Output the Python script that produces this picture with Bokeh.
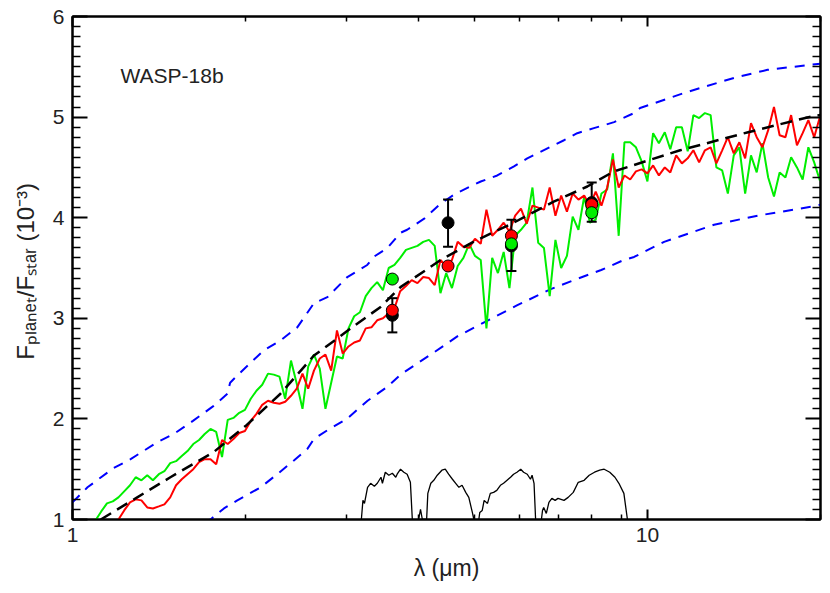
from bokeh.plotting import figure
from bokeh.models import (Range1d, FixedTicker, LogAxis, LinearAxis, Label, ColumnDataSource,
                          PrintfTickFormatter)
from bokeh.embed import file_html
from bokeh.resources import INLINE

NaN = float("nan")

# model spectra wavelength grid (micron)
model_wl = [1.096, 1.122, 1.148, 1.175, 1.202, 1.230, 1.259, 1.288, 1.318, 1.349, 1.380, 1.413, 1.445,
            1.479, 1.514, 1.549, 1.585, 1.622, 1.660, 1.698, 1.738, 1.778, 1.820, 1.862, 1.905, 1.950,
            1.995, 2.042, 2.089, 2.138, 2.188, 2.239, 2.291, 2.344, 2.399, 2.455, 2.512, 2.570, 2.630,
            2.692, 2.754, 2.818, 2.884, 2.951, 3.020, 3.090, 3.162, 3.236, 3.311, 3.388, 3.467, 3.548,
            3.631, 3.715, 3.802, 3.890, 3.981, 4.074, 4.169, 4.266, 4.365, 4.467, 4.571, 4.677, 4.786,
            4.898, 5.012, 5.129, 5.248, 5.370, 5.495, 5.623, 5.754, 5.888, 6.026, 6.166, 6.310, 6.457,
            6.607, 6.761, 6.918, 7.079, 7.244, 7.413, 7.586, 7.762, 7.943, 8.128, 8.318, 8.511, 8.710,
            8.913, 9.120, 9.333, 9.550, 9.772, 10.00, 10.23, 10.47, 10.72, 10.96, 11.22, 11.48, 11.75,
            12.02, 12.30, 12.59, 12.88, 13.18, 13.49, 13.80, 14.13, 14.45, 14.79, 15.14, 15.49, 15.85,
            16.22, 16.60, 16.98, 17.38, 17.78, 18.20, 18.62, 19.05, 19.50, 19.95]

green_flux = [0.99, 1.08, 1.16, 1.18, 1.22, 1.28, 1.34, 1.42, 1.39, 1.44, 1.39, 1.45, 1.48, 1.56, 1.58,
              1.63, 1.68, 1.75, 1.79, 1.85, 1.90, 1.87, 1.62, 1.99, 2.01, 2.06, 2.09, 2.20, 2.28, 2.34,
              2.45, 2.44, 2.42, 2.20, 2.58, 2.35, 2.10, 2.52, 2.64, 2.50, 2.10, 2.36, 2.62, 2.60, 2.90,
              3.02, 3.06, 3.22, 3.30, 3.36, 3.28, 3.50, 3.53, 3.60, 3.68, 3.70, 3.72, 3.76, 3.78, 3.72,
              3.25, 3.45, 3.30, 3.52, 3.60, 3.74, 3.62, 3.58, 2.90, 3.60, 3.45, 3.66, 3.30, 3.82, 3.88,
              3.95, 4.30, 3.75, 3.70, 3.22, 3.78, 3.50, 3.62, 4.01, 3.88, 4.21, 3.95, 3.98, 4.24, 4.28,
              4.64, 3.82, 4.75, 4.75, 4.70, 4.56, 4.36, 4.84, 4.74, 4.85, 4.68, 4.90, 4.90, 4.66, 5.02,
              4.99, 5.04, 5.02, 4.50, 4.47, 4.24, 4.62, 4.70, 4.24, 4.62, 4.45, 4.74, 4.40, 4.21, 4.45,
              4.40, 4.60, 4.50, 4.38, 4.70, 4.55, 4.37]

red_flux = [NaN, NaN, NaN, NaN, 1.00, 1.09, 1.17, 1.20, 1.19, 1.12, 1.11, 1.13, 1.15, 1.22, 1.34,
            1.40, 1.45, 1.50, 1.57, 1.60, 1.60, 1.55, 1.79, 1.75, 1.80, 1.86, 1.88, 1.98, 2.05, 2.14,
            2.18, 2.16, 2.15, 2.17, 2.23, 2.30, 2.45, 2.30, 2.48, 2.60, 2.64, 2.48, 2.88, 2.65, 2.72,
            2.76, 2.78, 2.90, 2.91, 2.98, 3.00, 3.05, 3.10, 3.27, 3.32, 3.38, 3.35, 3.41, 3.40, 3.33,
            3.58, 3.52, 3.58, 3.76, 3.71, 3.70, 3.79, 3.74, 4.08, 3.82, 3.88, 3.95, 3.86, 4.02, 4.09,
            3.94, 4.12, 4.10, 4.08, 4.30, 4.02, 4.22, 4.06, 4.24, 4.18, 4.22, 4.12, 4.26, 4.12, 4.30,
            4.58, 4.30, 4.42, 4.38, 4.46, 4.48, 4.44, 4.52, 4.42, 4.50, 4.45, 4.62, 4.54, 4.59, 4.67,
            4.55, 4.67, 4.70, 4.54, 4.67, 4.80, 4.64, 4.75, 4.59, 4.94, 4.80, 4.70, 4.87, 5.10, 4.82,
            4.80, 5.02, 4.72, 4.84, 4.97, 4.80, 5.00]

# black dashed model
bb_wl = [1.12, 1.296, 1.48, 1.76, 2.01, 2.30, 2.63, 2.89, 3.08, 3.43, 3.72, 4.37, 4.98, 5.85, 6.87,
         7.86, 8.74, 11.4, 14.97, 19.4, 20.0]
bb_flux = [1.00, 1.22, 1.42, 1.67, 1.94, 2.25, 2.63, 2.80, 2.92, 3.11, 3.31, 3.58, 3.76, 3.95, 4.16,
           4.31, 4.46, 4.67, 4.85, 5.01, 5.02]

# blue dashed upper / lower
hi_wl = [1.0, 1.062, 1.178, 1.262, 1.406, 1.50, 1.62, 1.76, 1.86, 1.88, 1.934, 2.149, 2.30, 2.46, 2.63,
         2.775, 3.006, 3.256, 3.34, 3.53, 3.72, 3.82, 4.09, 4.37, 4.64, 5.13, 5.48, 5.86, 6.18, 6.70,
         7.16, 7.55, 8.07, 8.75, 9.48, 9.71, 11.58, 14.15, 16.18, 19.24, 20.0]
hi_flux = [1.17, 1.32, 1.51, 1.60, 1.77, 1.85, 1.98, 2.13, 2.25, 2.36, 2.43, 2.68, 2.78, 2.91, 3.15,
           3.21, 3.41, 3.53, 3.61, 3.70, 3.85, 3.88, 3.99, 4.14, 4.24, 4.36, 4.42, 4.51, 4.59, 4.69,
           4.77, 4.84, 4.89, 4.95, 5.04, 5.09, 5.24, 5.39, 5.47, 5.52, 5.53]
lo_wl = [1.70, 1.738, 1.834, 1.935, 2.124, 2.27, 2.43, 2.56, 2.63, 2.78, 3.0, 3.26, 3.53, 3.72, 4.25,
         4.67, 5.20, 5.94, 6.79, 7.45, 8.31, 9.10, 9.48, 10.69, 13.06, 15.54, 19.76, 20.0]
lo_flux = [0.97, 1.00, 1.11, 1.19, 1.32, 1.45, 1.59, 1.70, 1.80, 1.89, 2.00, 2.18, 2.32, 2.44, 2.66,
           2.82, 2.96, 3.13, 3.29, 3.38, 3.48, 3.58, 3.61, 3.76, 3.93, 4.02, 4.12, 4.13]

# IRAC band responses (arbitrary scaling)
ch1_wl = [3.18, 3.20, 3.22, 3.26, 3.30, 3.35, 3.39, 3.44, 3.46, 3.50, 3.55, 3.60, 3.65, 3.67, 3.72,
          3.77, 3.82, 3.87, 3.90]
ch1_r = [1.0, 1.19, 1.16, 1.32, 1.36, 1.33, 1.36, 1.42, 1.36, 1.47, 1.44, 1.46, 1.42, 1.45, 1.50,
         1.47, 1.45, 1.37, 1.0]
ch2_wl = [4.00, 4.03, 4.06, 4.13, 4.15, 4.20, 4.25, 4.31, 4.39, 4.45, 4.51, 4.58, 4.64, 4.70, 4.76,
          4.83, 4.89, 4.96, 4.99]
ch2_r = [1.0, 1.10, 1.0, 1.0, 1.26, 1.36, 1.39, 1.44, 1.49, 1.50, 1.45, 1.40, 1.36, 1.32, 1.34,
         1.27, 1.22, 1.07, 1.0]
ch3_wl = [5.09, 5.11, 5.16, 5.20, 5.27, 5.33, 5.40, 5.47, 5.55, 5.62, 5.70, 5.78, 5.85, 5.93, 6.02,
          6.09, 6.18, 6.26, 6.30, 6.35, 6.39]
ch3_r = [1.0, 1.07, 1.09, 1.19, 1.16, 1.26, 1.27, 1.29, 1.34, 1.36, 1.39, 1.42, 1.45, 1.47, 1.50,
         1.47, 1.45, 1.40, 1.44, 1.36, 1.0]
ch4_wl = [6.54, 6.57, 6.60, 6.67, 6.74, 6.82, 6.91, 6.99, 7.16, 7.28, 7.43, 7.58, 7.76, 7.92, 8.09,
          8.26, 8.41, 8.60, 8.78, 8.92, 9.10, 9.23]
ch4_r = [1.0, 1.09, 1.12, 1.06, 1.17, 1.21, 1.19, 1.21, 1.19, 1.22, 1.27, 1.37, 1.39, 1.44, 1.47,
         1.49, 1.50, 1.47, 1.42, 1.36, 1.26, 1.0]

# Spitzer eclipse depths
obs_wl = [3.6, 4.5, 5.8, 8.0]
obs_depth = [3.03, 3.95, 3.72, 4.15]
obs_hi = [3.20, 4.18, 3.98, 4.35]
obs_lo = [2.86, 3.71, 3.47, 3.96]
red_band_wl = [3.6, 4.5, 5.8, 8.0]
red_band = [3.08, 3.52, 3.82, 4.13]
green_band_wl = [3.6, 5.8, 8.0]
green_band = [3.39, 3.74, 4.05]

x_ticks = [1, 10]
x_minor = [2, 3, 4, 5, 6, 7, 8, 9, 20]
y_ticks = [1, 2, 3, 4, 5, 6]

FONT = "Liberation Sans"
TXT = "#222222"

p = figure(width=830, height=592, x_axis_type="log", output_backend="svg", toolbar_location=None,
           x_range=Range1d(1, 20), y_range=Range1d(1, 6),
           min_border_left=72, min_border_right=10, min_border_top=16, min_border_bottom=73)
p.grid.visible = False
p.outline_line_color = "black"
p.outline_line_width = 2
p.background_fill_color = "white"
p.border_fill_color = "white"

xt = FixedTicker(ticks=x_ticks, minor_ticks=x_minor)
yt = FixedTicker(ticks=y_ticks,
                 minor_ticks=[round(1 + 0.1 * i, 1) for i in range(51) if i % 10])

def style_axis(ax, major, minor, labels=True):
    ax.axis_line_width = 2
    ax.axis_line_color = "black"
    ax.major_tick_in = major
    ax.major_tick_out = 0
    ax.minor_tick_in = minor
    ax.minor_tick_out = 0
    ax.major_tick_line_width = 2
    ax.minor_tick_line_width = 1.5
    ax.major_tick_line_color = "black"
    ax.minor_tick_line_color = "black"
    if labels:
        ax.major_label_text_font = FONT
        ax.major_label_text_font_size = "21px"
        ax.major_label_text_color = TXT
        ax.major_label_standoff = 8
        ax.axis_label_text_font = FONT
        ax.axis_label_text_font_style = "normal"
        ax.axis_label_text_font_size = "23px"
        ax.axis_label_text_color = TXT
    else:
        ax.major_label_text_font_size = "1px"
        ax.major_label_text_color = None
        ax.major_label_standoff = 0

p.xaxis.ticker = xt
p.xaxis.formatter = PrintfTickFormatter(format="%d")
p.yaxis.ticker = yt
style_axis(p.xaxis[0], 10, 5)
style_axis(p.yaxis[0], 15, 8)
p.xaxis.axis_label = "λ (μm)"
p.xaxis.axis_label_standoff = 10
p.yaxis.axis_label = "Fₚₗₐₙₑₜ/Fₛₜₐᵣ  (10⁻³)"
p.yaxis.axis_label_text_font_size = "24px"
p.yaxis.axis_label_standoff = 11

top = LogAxis(ticker=xt, major_label_overrides={t: " " for t in x_ticks})
style_axis(top, 10, 5, labels=False)
p.add_layout(top, "above")
right = LinearAxis(ticker=yt, major_label_overrides={t: " " for t in y_ticks})
style_axis(right, 15, 8, labels=False)
p.add_layout(right, "right")

# curves
p.line(hi_wl, hi_flux, line_color="#0000ff", line_width=2, line_dash="10 8")
p.line(lo_wl, lo_flux, line_color="#0000ff", line_width=2, line_dash="10 8")
p.line(model_wl, green_flux, line_color="#00ee00", line_width=2)
p.line(model_wl, red_flux, line_color="#ff0000", line_width=2)
p.line(bb_wl, bb_flux, line_color="black", line_width=2.5, line_dash="12 7")
for bw, br in [(ch1_wl, ch1_r), (ch2_wl, ch2_r), (ch3_wl, ch3_r), (ch4_wl, ch4_r)]:
    p.line(bw, br, line_color="black", line_width=1.3)

# observations
src = ColumnDataSource(dict(x=obs_wl, y=obs_depth, hi=obs_hi, lo=obs_lo))
p.segment(x0="x", y0="lo", x1="x", y1="hi", source=src, line_color="black", line_width=2)
p.dash(x="x", y="hi", source=src, size=10, line_color="black", line_width=2)
p.dash(x="x", y="lo", source=src, size=10, line_color="black", line_width=2)
p.scatter("x", "y", source=src, size=12, fill_color="black", line_color="black")
p.scatter(red_band_wl, red_band, size=12, fill_color="#ff0000", line_color="black", line_width=1)
p.scatter(green_band_wl, green_band, size=12, fill_color="#00ee00", line_color="black", line_width=1)

p.add_layout(Label(x=1.212, y=5.414, text="WASP-18b", text_font=FONT, text_font_size="21px",
                   text_color=TXT, text_align="left", text_baseline="alphabetic"))

open("out.html", "w").write(file_html(p, INLINE))
